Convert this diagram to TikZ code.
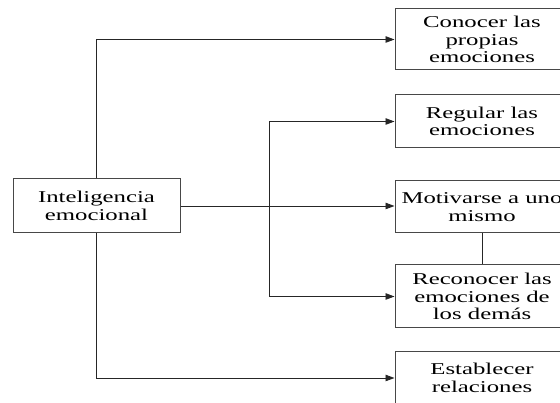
\documentclass[tikz,border=0pt]{standalone}
\usepackage{fontspec}
\newfontfamily\boxfont[FakeStretch=1.5]{Liberation Serif}
\usetikzlibrary{arrows.meta}
\begin{document}
\begin{tikzpicture}[x=1pt,y=-1pt,
  box/.style={draw=black!72, line width=1pt, rectangle, inner sep=0pt,
    align=center, font=\boxfont\fontsize{16.5}{17.3}\selectfont,
    minimum width=174pt},
  link/.style={draw=black!85, line width=0.9pt},
  arr/.style={link, -{Triangle[length=9pt,width=6.5pt]}}]
\useasboundingbox (0,0) rectangle (560,403);
% central concept
\node[box, minimum width=167pt, minimum height=54pt] (ie) at (96.5,206) {Inteligencia\\emocional};
% the five components
\node[box, minimum height=61pt] (b1) at (482,39.5) {Conocer las\\propias\\emociones};
\node[box, minimum height=53pt] (b2) at (482,121.5) {Regular las\\emociones};
\node[box, minimum height=52pt] (b3) at (482,207) {Motivarse a uno\\mismo};
\node[box, minimum height=63pt] (b4) at (482,296.5) {Reconocer las\\emociones de\\los demás};
\node[box, minimum height=52pt] (b5) at (482,378) {Establecer\\relaciones};
% branching point of the inner bracket
\coordinate (j) at (269,206);
% connectors
\draw[arr] (ie.north) |- (b1.west);
\draw[arr] (ie.south) |- (b5.west);
\draw[link] (ie.east) -- (j);
\draw[arr] (j) -- (b3.west |- j);
\draw[arr] (j) |- (b2.west);
\draw[arr] (j) |- (b4.west);
\draw[link] (b3.south) -- (b4.north);
\end{tikzpicture}
\end{document}
